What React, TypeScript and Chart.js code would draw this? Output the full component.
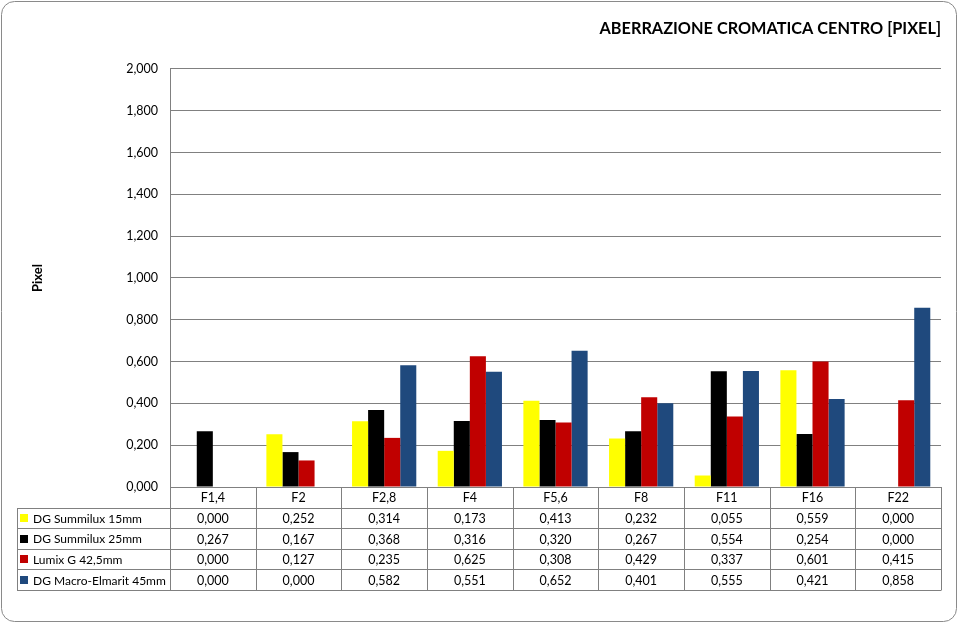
import React, { useEffect, useRef } from "react";
import { Chart, registerables } from "chart.js";

Chart.register(...registerables);

const chartTitle = "ABERRAZIONE CROMATICA CENTRO [PIXEL]";
const yAxisTitle = "Pixel";
const categories = ["F1,4", "F2", "F2,8", "F4", "F5,6", "F8", "F11", "F16", "F22"];
const seriesNames = ["DG Summilux 15mm", "DG Summilux 25mm", "Lumix G 42,5mm", "DG Macro-Elmarit 45mm"];
const summilux15 = [0.0, 0.252, 0.314, 0.173, 0.413, 0.232, 0.055, 0.559, 0.0];
const summilux25 = [0.267, 0.167, 0.368, 0.316, 0.32, 0.267, 0.554, 0.254, 0.0];
const lumix425 = [0.0, 0.127, 0.235, 0.625, 0.308, 0.429, 0.337, 0.601, 0.415];
const macroElmarit45 = [0.0, 0.0, 0.582, 0.551, 0.652, 0.401, 0.555, 0.421, 0.858];
const seriesColors = ["#FFFF00", "#000000", "#C00000", "#1F497D"];
const yMin = 0;
const yMax = 2;
const yStep = 0.2;

const FONT = "Lato, 'Open Sans', sans-serif";
const LINE = "#808080";

const fmt = (v: number) => v.toFixed(3).replace(".", ",");

const frameAndTablePlugin = {
  id: "frameAndTable",
  beforeDraw(chart: any) {
    const ctx = chart.ctx;
    ctx.save();
    ctx.fillStyle = "#ffffff";
    ctx.fillRect(0, 0, chart.width, chart.height);
    ctx.strokeStyle = "#8a8a8a";
    ctx.lineWidth = 1;
    ctx.beginPath();
    (ctx as any).roundRect(1.5, 1.5, chart.width - 4, chart.height - 3, 13);
    ctx.stroke();
    ctx.restore();
  },
  afterDraw(chart: any) {
    const ctx = chart.ctx;
    const area = chart.chartArea;
    const xs = chart.scales.x;
    const n = categories.length;
    const colW = (area.right - area.left) / n;
    const top = Math.round(area.bottom);
    const rowH = 20.6;
    const legendLeft = 17;
    const rows = chart.data.datasets.length;
    const bottom = top + rowH * (rows + 1);
    ctx.save();
    ctx.strokeStyle = LINE;
    ctx.lineWidth = 1;
    ctx.beginPath();
    ctx.moveTo(area.left, top + 0.5);
    ctx.lineTo(area.right, top + 0.5);
    for (let r = 1; r <= rows + 1; r++) {
      const y = Math.round(top + rowH * r) + 0.5;
      ctx.moveTo(legendLeft, y);
      ctx.lineTo(area.right, y);
    }
    for (let c = 0; c <= n; c++) {
      const x = Math.round(area.left + colW * c) + 0.5;
      ctx.moveTo(x, top);
      ctx.lineTo(x, Math.round(bottom) + 0.5);
    }
    ctx.moveTo(legendLeft + 0.5, Math.round(top + rowH) + 0.5);
    ctx.lineTo(legendLeft + 0.5, Math.round(bottom) + 0.5);
    ctx.stroke();

    ctx.fillStyle = "#000";
    ctx.textBaseline = "middle";
    ctx.textAlign = "center";
    ctx.font = `12.5px ${FONT}`;
    chart.data.labels.forEach((lab: string, i: number) => {
      const cx = xs.getPixelForValue(i);
      ctx.fillText(lab, cx, top + rowH / 2 + 1);
    });
    chart.data.datasets.forEach((ds: any, r: number) => {
      const cy = top + rowH * (r + 1) + rowH / 2 + 1;
      ctx.fillStyle = ds.backgroundColor;
      ctx.fillRect(legendLeft + 3, Math.round(cy - 5), 8, 8);
      ctx.fillStyle = "#000";
      ctx.textAlign = "left";
      ctx.font = `12px ${FONT}`;
      ctx.fillText(ds.label, legendLeft + 16, cy);
      ctx.textAlign = "center";
      ctx.font = `12.5px ${FONT}`;
      ds.data.forEach((v: number, i: number) => {
        ctx.fillText(fmt(v), xs.getPixelForValue(i), cy);
      });
    });
    ctx.restore();
  },
};

export default function App() {
  const ref = useRef<HTMLCanvasElement | null>(null);
  useEffect(() => {
    document.body.style.margin = "0";
    const canvas = ref.current;
    if (!canvas) return;
    const seriesData = [summilux15, summilux25, lumix425, macroElmarit45];
    const chart = new Chart(canvas, {
      type: "bar",
      data: {
        labels: categories,
        datasets: seriesNames.map((name, i) => ({
          label: name,
          data: seriesData[i],
          backgroundColor: seriesColors[i],
          borderWidth: 0,
          categoryPercentage: 0.75,
          barPercentage: 1.0,
        })),
      },
      options: {
        responsive: false,
        animation: false,
        devicePixelRatio: 1,
        layout: { padding: { left: 0, right: 18, top: 0, bottom: 136 } },
        plugins: {
          legend: { display: false },
          tooltip: { enabled: false },
          title: {
            display: true,
            text: chartTitle,
            align: "end",
            color: "#000",
            font: { family: FONT, size: 16.3, weight: "bold", lineHeight: 1.25 },
            padding: { top: 19, bottom: 29.6 },
          },
        },
        scales: {
          x: { display: false },
          y: {
            min: yMin,
            max: yMax,
            afterFit: (scale: any) => {
              scale.width = 170;
            },
            ticks: {
              stepSize: yStep,
              color: "#000",
              padding: 12,
              font: { family: FONT, size: 12.5 },
              callback: (v: any) => fmt(Number(v)),
            },
            grid: { color: LINE, drawTicks: false, lineWidth: 1 },
            border: { display: true, color: LINE },
            title: {
              display: true,
              text: yAxisTitle,
              color: "#000",
              font: { family: FONT, size: 13, weight: "bold" },
              padding: { top: 30, bottom: 0 },
            },
          },
        },
      },
      plugins: [frameAndTablePlugin],
    });
    return () => chart.destroy();
  }, []);
  return (
    <div style={{ width: 959, height: 623 }}>
      <canvas ref={ref} width={959} height={623} style={{ display: "block" }} />
    </div>
  );
}
